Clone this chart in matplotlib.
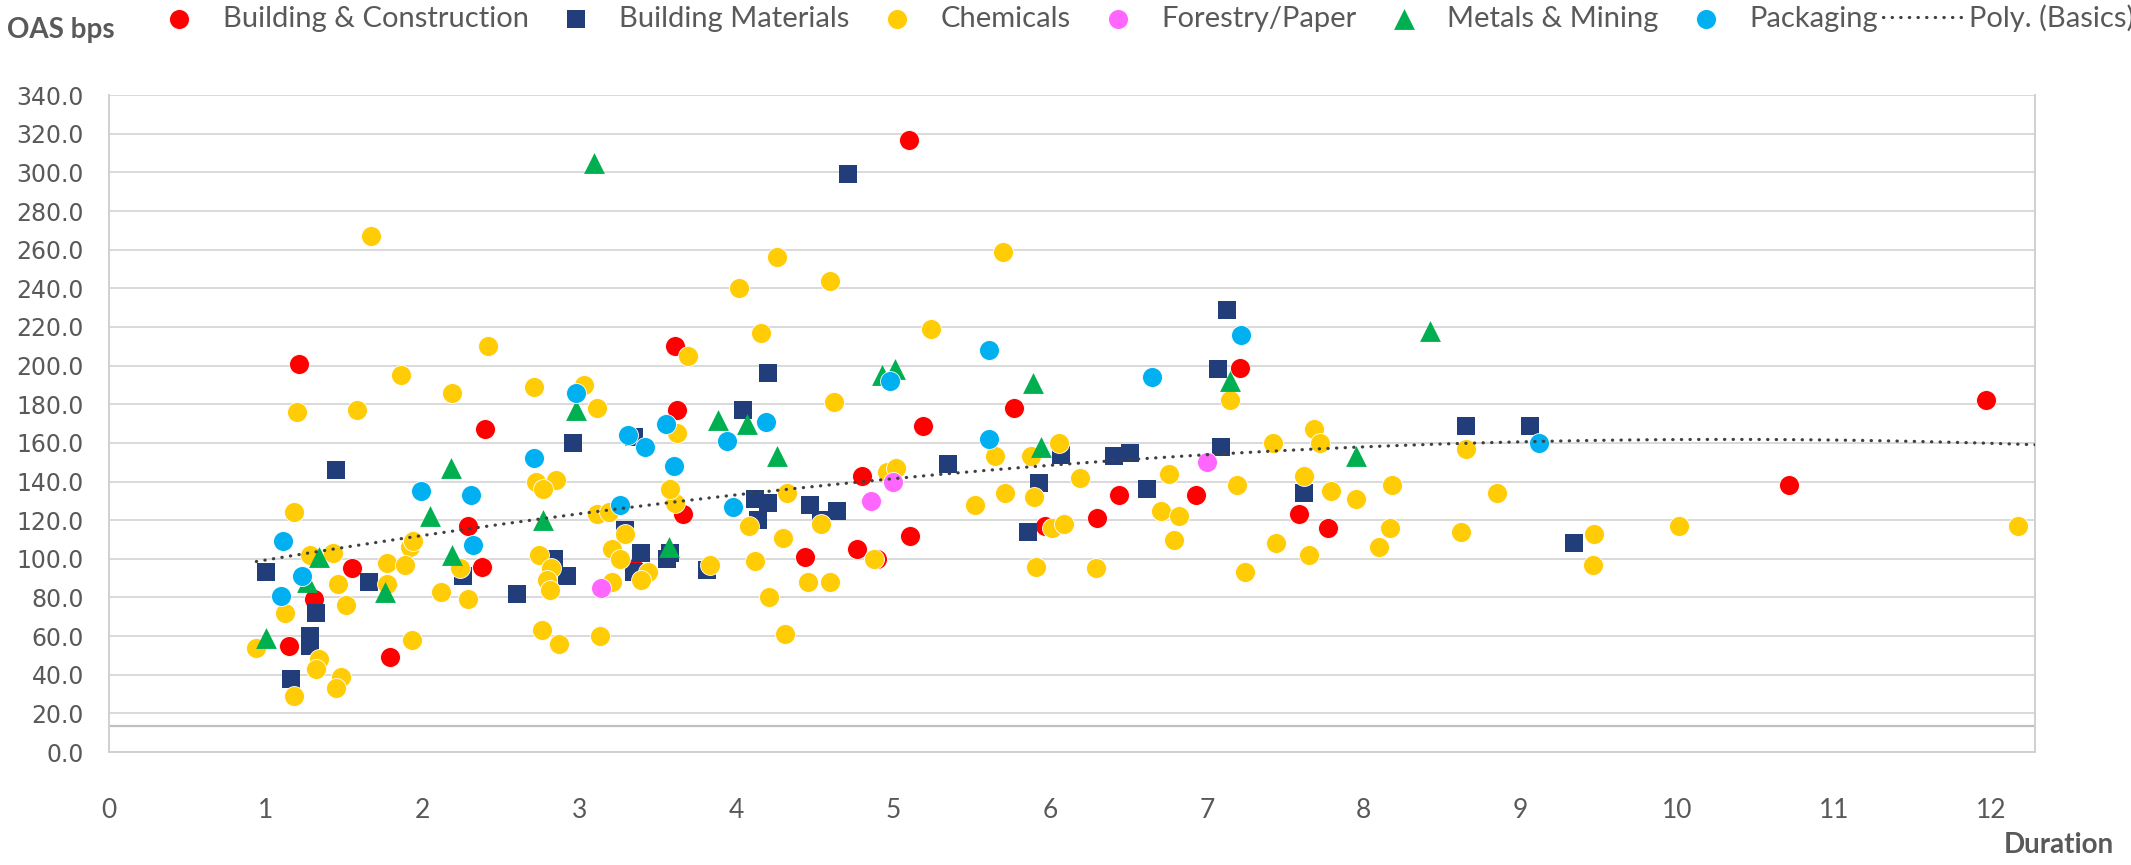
import numpy as np
import matplotlib.pyplot as plt

# Building & Construction
bc_x = [1.21, 1.15, 1.31, 1.55, 1.79, 2.29, 2.38, 2.40, 3.35, 3.61, 3.62, 3.66, 4.44, 4.77, 4.80,
        4.90, 5.10, 5.11, 5.19, 5.77, 5.97, 6.30, 6.44, 6.93, 7.21, 7.59, 7.77, 10.71, 11.97]
bc_y = [201, 55, 79, 95, 49, 117, 96, 167, 95, 210, 177, 123, 101, 105, 143,
        100, 317, 112, 169, 178, 117, 121, 133, 133, 199, 123, 116, 138, 182]

# Building Materials
bm_x = [1.00, 1.16, 1.28, 1.28, 1.32, 1.45, 1.66, 2.26, 2.60, 2.84, 2.92, 2.96, 3.29, 3.35, 3.35,
        3.39, 3.56, 3.58, 3.81, 4.04, 4.12, 4.14, 4.20, 4.20, 4.47, 4.54, 4.64, 4.71, 5.35, 5.86,
        5.93, 6.07, 6.41, 6.51, 6.62, 7.07, 7.09, 7.13, 7.62, 8.65, 9.06, 9.34]
bm_y = [93, 38, 60, 55, 72, 146, 88, 91, 82, 100, 91, 160, 115, 163, 93,
        103, 100, 103, 94, 177, 131, 120, 129, 196, 128, 120, 125, 299, 149, 114,
        139, 154, 153, 155, 136, 198, 158, 229, 134, 169, 169, 108]

# Chemicals
ch_x = [1.67, 2.42, 1.86, 2.19, 2.71, 3.03, 3.11, 1.20, 1.58,
        2.72, 2.85, 2.77, 1.18, 3.11, 1.28, 1.43, 1.77, 1.92, 1.94, 1.89, 2.24, 1.77, 1.46, 1.51,
        1.12, 0.94, 1.34, 1.32, 1.48, 1.45, 1.18, 1.93, 2.12, 2.29, 2.74, 2.82, 2.79, 2.81, 2.76,
        2.87, 3.13,
        4.26, 4.02, 4.60, 5.70, 4.16, 5.24, 3.69, 4.62, 3.62, 6.06, 5.65, 5.88,
        4.96, 5.02, 5.71, 5.90, 5.52, 6.19, 6.01, 6.09, 5.91, 4.32, 4.08, 4.30, 4.12, 4.21, 4.31,
        4.54, 4.46, 4.60, 4.88, 3.61, 3.58, 3.19, 3.29, 3.21, 3.26, 3.44, 3.39, 3.21, 3.83,
        7.15, 7.42, 7.68, 7.72, 8.65, 6.29, 6.76, 6.71, 6.82, 6.79, 7.19, 7.24, 7.44, 7.62, 7.65,
        7.79, 7.95, 8.18, 8.17, 8.10, 8.62, 8.85,
        9.47, 9.46, 10.01, 12.17]
ch_y = [267, 210, 195, 186, 189, 190, 178, 176, 177,
        140, 141, 136, 124, 123, 102, 103, 98, 106, 109, 97, 95, 87, 87, 76,
        72, 54, 48, 43, 39, 33, 29, 58, 83, 79, 102, 95, 89, 84, 63,
        56, 60,
        256, 240, 244, 259, 217, 219, 205, 181, 165, 160, 153, 153,
        145, 147, 134, 132, 128, 142, 116, 118, 96, 134, 117, 111, 99, 80, 61,
        118, 88, 88, 100, 129, 136, 124, 113, 105, 100, 93, 89, 88, 97,
        182, 160, 167, 160, 157, 95, 144, 125, 122, 110, 138, 93, 108, 143, 102,
        135, 131, 138, 116, 106, 114, 134,
        113, 97, 117, 117]

# Forestry/Paper
fp_x = [3.14, 4.86, 5.00, 7.00]
fp_y = [85, 130, 140, 150]

# Metals & Mining
mm_x = [1.00, 1.26, 1.34, 1.76, 2.05, 2.18, 2.19, 2.77, 2.98, 3.09, 3.57, 3.88, 4.07, 4.26,
        4.93, 5.01, 5.89, 5.94, 7.15, 7.95, 8.42]
mm_y = [59, 88, 101, 83, 122, 147, 102, 120, 177, 305, 106, 172, 170, 153,
        195, 198, 191, 158, 192, 153, 218]

# Packaging
pk_x = [1.10, 1.11, 1.23, 1.99, 2.31, 2.32, 2.71, 2.98, 3.26, 3.31, 3.42, 3.55, 3.60, 3.94,
        3.98, 4.19, 4.98, 5.61, 5.61, 6.65, 7.22, 9.12]
pk_y = [81, 109, 91, 135, 133, 107, 152, 186, 128, 164, 158, 170, 148, 161,
        127, 171, 192, 208, 162, 194, 216, 160]

# "Poly. (Basics)" trendline (c, b, a of c*x^2 + b*x + a)
trend_coef = [-0.7186, 14.83, 85.3]
trend_start, trend_end = 0.94, 12.28

grey = '#595959'
fig = plt.figure(figsize=(21.31, 8.65), dpi=100)
ax = fig.add_axes([0.0511, 0.1306, 0.9039, 0.7594])

circ = dict(s=205, edgecolors='white', linewidths=0.6, zorder=3)
h1 = ax.scatter(bc_x, bc_y, color='#FF0000', marker='o', **circ)
h2 = ax.scatter(bm_x, bm_y, color='#213E7A', marker='s', s=150, linewidths=0, zorder=3)
h3 = ax.scatter(ch_x, ch_y, color='#FFCC05', marker='o', **circ)
h4 = ax.scatter(fp_x, fp_y, color='#FF66FF', marker='o', **circ)
h5 = ax.scatter(mm_x, mm_y, color='#00B050', marker='^', s=225, linewidths=0, zorder=3)
h6 = ax.scatter(pk_x, pk_y, color='#00B0F0', marker='o', **circ)

tx = np.linspace(trend_start, trend_end, 300)
h7, = ax.plot(tx, np.polyval(trend_coef, tx), color='#404040', lw=2.3,
              linestyle=(0, (0.1, 2.6)), dash_capstyle='round', zorder=4)

ax.set_xlim(0, 12.28)
ax.set_ylim(0, 340)
ax.set_yticks(np.arange(0, 341, 20))
ax.set_yticklabels(['%.1f' % v for v in np.arange(0, 341, 20)],
                   fontsize=17, color=grey, family='DejaVu Sans')
ax.set_xticks(range(13))
ax.set_xticklabels([str(i) for i in range(13)], fontsize=19, color=grey, family='Lato')
ax.tick_params(axis='both', length=0)
ax.tick_params(axis='x', pad=33)
ax.tick_params(axis='y', pad=18)
ax.grid(axis='y', color='#D9D9D9', lw=1.4)
ax.set_axisbelow(True)
for sp in ['left', 'bottom', 'right']:
    ax.spines[sp].set_color('#D0D0D0')
    ax.spines[sp].set_linewidth(1.4)
ax.spines['top'].set_visible(False)
ax.axhline(13.3, color='#BFBFBF', lw=1.6, zorder=1)

labels = ['Building & Construction', 'Building Materials', 'Chemicals', 'Forestry/Paper',
          'Metals & Mining', 'Packaging', 'Poly. (Basics)']
fig.legend([h1, h2, h3, h4, h5, h6, h7], labels, loc='center left',
           bbox_to_anchor=(0.0645, 0.979), ncol=7, frameon=False,
           prop={'family': 'Lato', 'size': 21}, labelcolor=grey,
           handlelength=2.85, handletextpad=0.07, columnspacing=0.19,
           borderaxespad=0, borderpad=0)

fig.text(0.0033, 0.965, 'OAS bps', fontsize=20, fontweight='bold', color=grey,
         family='Lato', ha='left', va='center')
fig.text(0.992, 0.023, 'Duration', fontsize=20, fontweight='bold', color=grey,
         family='Lato', ha='right', va='center')

fig.savefig('out.png', dpi=100)
